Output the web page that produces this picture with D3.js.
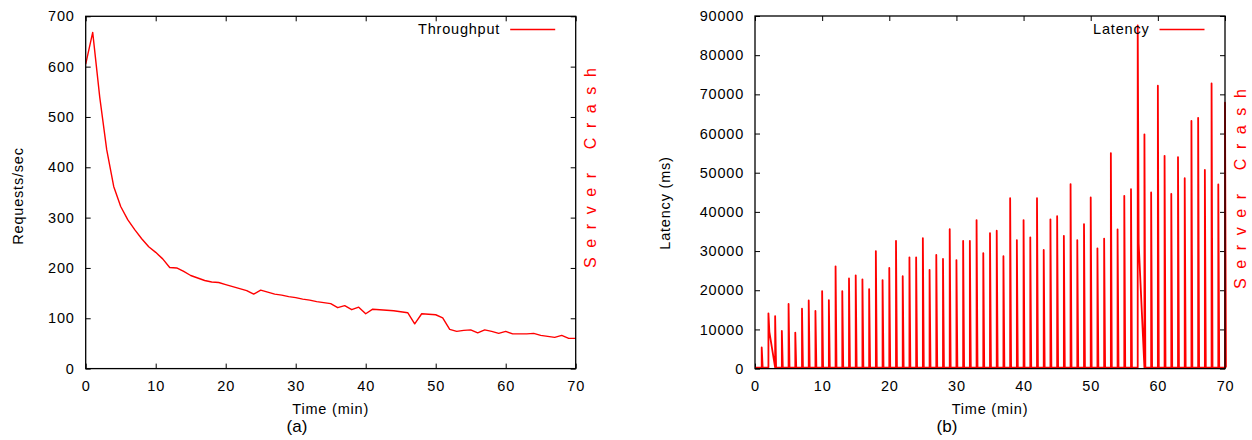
<!DOCTYPE html>
<html><head><meta charset="utf-8">
<script src="https://cdn.jsdelivr.net/npm/d3@7"></script>
<style>
body{margin:0;background:#fff}
text{font-family:"Liberation Sans",Arial,Helvetica,sans-serif}
</style>
</head><body>
<svg id="c" width="1252" height="440"></svg>
<script>
// ---------- data ----------
const throughputTime = [0,1,2,3,4,5,6,7,8,9,10,11,12,13,14,15,16,17,18,19,20,21,22,23,24,25,26,27,28,29,30,31,32,33,34,35,36,37,38,39,40,41,42,43,44,45,46,47,48,49,50,51,52,53,54,55,56,57,58,59,60,61,62,63,64,65,66,67,68,69,70];
const throughputValue = [605,668,540,435,362,322,296,276,258,242,231,218,201,200,193,185,180,175,172,171,167,163,159,155,148,156,152,148,146,143,141,138,136,133,131,129,121,125,117,122,109,118,117,116,115,113,111,89,109,108,107,101,78,74,76,77,71,77,74,70,74,69,69,69,70,66,64,62,66,60,60];

const latencyMinute = [1,2,3,4,5,6,7,8,9,10,11,12,13,14,15,16,17,18,19,20,21,22,23,24,25,26,27,28,29,30,31,32,33,34,35,36,37,38,39,40,41,42,43,44,45,46,47,48,49,50,51,52,53,54,55,56,57,58,59,60,61,62,63,64,65,66,67,68,69,70];
const latencyPeak = [5400,14100,13400,9600,16500,9200,15300,17400,14700,19800,
  17500,26100,19800,23000,23800,22800,20300,30000,22600,25700,
  32600,23600,28400,28400,33300,25200,29000,28000,35600,27700,
  32600,32600,37900,29500,34600,35200,28700,43500,32800,37900,
  33500,43500,30300,38100,38900,33900,47100,32800,36900,43700,
  30700,33200,55000,35500,44100,45800,87600,59800,45000,72200,
  54300,44600,54000,48600,63200,64000,50700,72800,47000,67900];
const latencyDropMinute = [2, 57];
const latencyDropValue = [9400, 32000];
const latencyBase = 250;

const xTicks = [0,10,20,30,40,50,60,70];
const yTicksA = [0,100,200,300,400,500,600,700];
const yTicksB = [0,10000,20000,30000,40000,50000,60000,70000,80000,90000];

// ---------- drawing ----------
const svg = d3.select("#c");
svg.append("rect").attr("width",1252).attr("height",440).attr("fill","#fff");
const RED = "#ff0000";
const fmt = d3.format("d");

function panel(o){
  const g = svg.append("g");
  const x = d3.scaleLinear().domain([0,70]).range([o.left,o.right]);
  const y = d3.scaleLinear().domain([0,o.ymax]).range([o.bottom,o.top]);

  const styleAxis = sel => {
    sel.select(".domain").remove();
    sel.selectAll(".tick line").attr("stroke","#000").attr("stroke-width",1);
    sel.selectAll(".tick text").attr("font-size",14.5).attr("letter-spacing","0.8px")
      .attr("fill","#000").attr("font-family","Liberation Sans, Arial, sans-serif");
  };
  g.append("g").attr("transform",`translate(0,${o.bottom})`)
    .call(d3.axisBottom(x).tickValues(xTicks).tickFormat(fmt).tickSizeInner(-5).tickSizeOuter(0).tickPadding(12))
    .call(styleAxis);
  g.append("g").attr("transform",`translate(0,${o.top})`)
    .call(d3.axisTop(x).tickValues(xTicks).tickSizeInner(-5).tickSizeOuter(0).tickFormat(""))
    .call(styleAxis);
  g.append("g").attr("transform",`translate(${o.left},0)`)
    .call(d3.axisLeft(y).tickValues(o.yTicks).tickFormat(fmt).tickSizeInner(-5).tickSizeOuter(0).tickPadding(11))
    .call(styleAxis);
  g.append("g").attr("transform",`translate(${o.right},0)`)
    .call(d3.axisRight(y).tickValues(o.yTicks).tickSizeInner(-5).tickSizeOuter(0).tickFormat(""))
    .call(styleAxis);

  // data
  o.draw(g, x, y);

  // border
  g.append("rect").attr("x",o.left).attr("y",o.top)
    .attr("width",o.right-o.left).attr("height",o.bottom-o.top)
    .attr("fill","none").attr("stroke","#000").attr("stroke-width",1.3);

  // axis titles
  g.append("text").attr("x",(o.left+o.right)/2).attr("y",414)
    .attr("text-anchor","middle").attr("font-size",14.5).attr("letter-spacing","0.8px")
    .text("Time (min)");
  g.append("text").attr("transform",`translate(${o.ylabX},${o.ylabY}) rotate(-90)`)
    .attr("text-anchor","middle").attr("font-size",14.5).attr("letter-spacing","0.8px")
    .text(o.ylabel);
  g.append("text").attr("x",o.capX).attr("y",432).attr("text-anchor","middle")
    .attr("font-family","Liberation Serif, Times New Roman, serif").attr("font-size",17)
    .text(o.caption);

  // legend
  const lx1 = o.right - 65.5, lx2 = o.right - 20.5;
  g.append("line").attr("x1",lx1).attr("x2",lx2).attr("y1",29.5).attr("y2",29.5)
    .attr("stroke",RED).attr("stroke-width",1.3);
  g.append("text").attr("x",lx1-10).attr("y",34).attr("text-anchor","end")
    .attr("font-size",14.5).attr("letter-spacing","0.8px").text(o.legend);

  // server crash label
  g.append("text").attr("transform",`translate(${o.crashX},${o.crashY}) rotate(-90)`)
    .attr("text-anchor","start").attr("font-size",16).attr("letter-spacing","9.6px")
    .attr("fill",RED).text("Server Crash");
}

panel({
  left:85.7, right:575.7, top:16.3, bottom:368.6, ymax:700, yTicks:yTicksA,
  ylabel:"Requests/sec", ylabX:23, ylabY:196, caption:"(a)", capX:297,
  legend:"Throughput", crashX:596, crashY:268,
  draw:(g,x,y)=>{
    const line = d3.line().x(d=>x(d[0])).y(d=>y(d[1]));
    g.append("path").datum(throughputTime.map((t,i)=>[t,throughputValue[i]]))
      .attr("d",line).attr("fill","none").attr("stroke",RED).attr("stroke-width",1.4)
      .attr("stroke-linejoin","round");
  }
});

panel({
  left:755, right:1225, top:16.0, bottom:368.6, ymax:90000, yTicks:yTicksB,
  ylabel:"Latency (ms)", ylabX:670, ylabY:203, caption:"(b)", capX:947,
  legend:"Latency", crashX:1246, crashY:289,
  draw:(g,x,y)=>{
    const w = 0.14;
    const pts = [[0, latencyBase]];
    latencyMinute.forEach((m,i)=>{
      pts.push([m, latencyBase],[m, latencyPeak[i]]);
      const di = latencyDropMinute.indexOf(m);
      pts.push([m + w, di >= 0 ? latencyDropValue[di] : latencyBase]);
    });
    const line = d3.line().x(d=>x(d[0])).y(d=>y(d[1]));
    g.append("path").datum(pts).attr("d",line).attr("fill","none")
      .attr("stroke",RED).attr("stroke-width",1.8).attr("stroke-linejoin","round");
  }
});
</script>
</body></html>
